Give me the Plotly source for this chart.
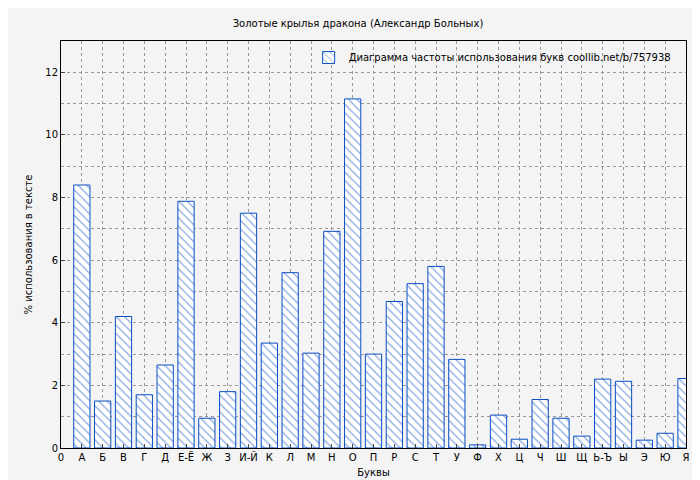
import plotly.graph_objects as go

letters = ["А","Б","В","Г","Д","Е-Ё","Ж","З","И-Й","К","Л","М","Н","О","П","Р","С","Т","У","Ф","Х","Ц","Ч","Ш","Щ","Ь-Ъ","Ы","Э","Ю","Я"]
values = [8.4,1.5,4.2,1.7,2.65,7.88,0.95,1.8,7.5,3.35,5.6,3.03,6.92,11.15,3.0,4.68,5.25,5.8,2.83,0.1,1.05,0.28,1.55,0.95,0.38,2.2,2.13,0.25,0.47,2.22]
positions = list(range(1, len(letters)+1))
tick_vals = [0] + positions
tick_text = ["0"] + letters

fig = go.Figure()
fig.add_trace(go.Bar(
    x=positions, y=values, width=0.78,
    name="Диаграмма частоты использования букв coollib.net/b/757938",
    marker=dict(color="white", line=dict(color="#0a4fc2", width=1),
                pattern=dict(shape="\\", fgcolor="#0a4fc2", bgcolor="white", size=6, solidity=0.2)),
))
fig.update_layout(
    width=700, height=480,
    paper_bgcolor="#f4f4f4", plot_bgcolor="#f4f4f4",
    margin=dict(l=53, r=22, t=33, b=40),
    title=dict(text="Золотые крылья дракона (Александр Больных)", x=0.5, y=0.975, xanchor="center",
               font=dict(size=10, color="black", family="DejaVu Sans")),
    font=dict(family="DejaVu Sans", size=10, color="black"),
    showlegend=True,
    legend=dict(x=0.985, y=0.995, xanchor="right", yanchor="top", bgcolor="rgba(0,0,0,0)", font=dict(size=10)),
    xaxis=dict(range=[0, 30], tickmode="array", tickvals=tick_vals, ticktext=tick_text, automargin=False,
               showgrid=True, gridcolor="#999", griddash="dot", gridwidth=1,
               showline=True, linecolor="black", mirror=True, ticks="inside", ticklen=4,
               title=dict(text="Буквы", standoff=6, font=dict(size=10)), zeroline=False),
    yaxis=dict(range=[0, 13], dtick=2, showgrid=True, gridcolor="#999", griddash="dot", automargin=False,
               minor=dict(dtick=1, showgrid=True, gridcolor="#999", griddash="dot"),
               showline=True, linecolor="black", mirror=True, ticks="inside", ticklen=4,
               title=dict(text="% использования в тексте", standoff=10, font=dict(size=10)), zeroline=False),
)
fig.write_html("out.html")
